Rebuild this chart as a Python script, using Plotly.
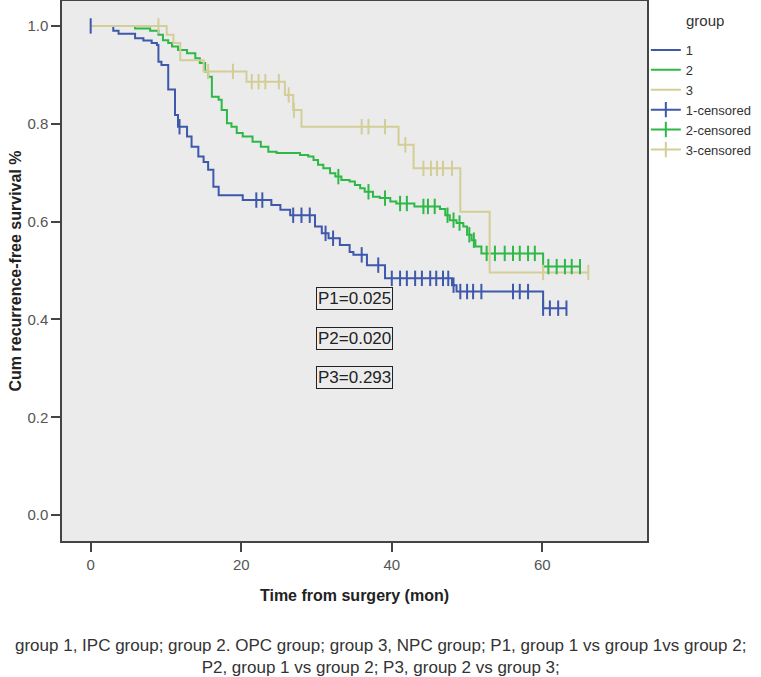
import numpy as np
import plotly.graph_objects as go

# ---------------- data ----------------
group_names = ["1", "2", "3"]

g1_time = [0, 3.0, 3.7, 5.9, 7.0, 8.1, 8.8, 9.0, 9.4, 10.3, 11.2, 11.6, 12.8, 13.4, 14.3,
           15.0, 15.6, 16.3, 17.0, 20.2, 24.0, 25.2, 26.5, 29.8, 30.7, 31.6, 33.1, 34.4,
           34.9, 36.7, 39.1, 48.0, 48.6, 60.1]
g1_surv = [1.0, 0.990, 0.984, 0.975, 0.970, 0.965, 0.961, 0.927, 0.920, 0.870, 0.818, 0.794,
           0.774, 0.753, 0.733, 0.722, 0.706, 0.671, 0.654, 0.644, 0.634, 0.624, 0.613, 0.590,
           0.576, 0.566, 0.552, 0.538, 0.532, 0.511, 0.484, 0.470, 0.457, 0.423]
g1_cens = [0, 11.8, 22.0, 22.8, 26.9, 28.0, 29.1, 31.2, 32.2, 36.0, 38.2, 40.0, 41.1, 42.0,
           43.1, 44.0, 45.1, 45.9, 46.8, 47.5, 48.2, 49.1, 50.0, 50.8, 51.9, 56.1, 57.0, 58.1,
           60.1, 61.0, 62.1, 63.2]

g2_time = [0, 5.9, 7.9, 9.0, 9.6, 10.3, 10.8, 11.6, 12.8, 13.9, 14.5, 15.2, 15.6, 16.1, 17.0,
           17.4, 18.1, 18.7, 19.4, 20.2, 21.5, 22.6, 23.6, 24.7, 27.8, 28.9, 29.6, 30.2, 30.9,
           31.8, 32.5, 33.3, 34.4, 35.1, 35.8, 36.4, 37.5, 38.4, 39.8, 40.6, 43.0, 46.4, 47.1,
           47.7, 48.6, 49.5, 50.0, 50.6, 51.1, 51.9, 60.1]
g2_surv = [1.0, 0.995, 0.990, 0.982, 0.971, 0.965, 0.958, 0.951, 0.944, 0.934, 0.924, 0.907,
           0.896, 0.855, 0.849, 0.828, 0.801, 0.794, 0.781, 0.774, 0.763, 0.753, 0.743, 0.740,
           0.736, 0.733, 0.726, 0.716, 0.709, 0.699, 0.692, 0.685, 0.682, 0.675, 0.668, 0.661,
           0.651, 0.648, 0.641, 0.637, 0.631, 0.626, 0.613, 0.603, 0.597, 0.590, 0.573, 0.562,
           0.549, 0.535, 0.508]
g2_cens = [32.9, 36.9, 39.1, 41.1, 42.0, 44.2, 44.8, 45.7, 47.4, 48.2, 49.0, 50.3, 50.9, 52.6,
           53.7, 55.0, 56.1, 57.0, 58.1, 59.0, 60.8, 61.9, 63.0, 63.9, 65.0]

g3_time = [0, 10.1, 11.0, 11.9, 15.0, 20.7, 25.8, 26.9, 28.0, 40.9, 42.9, 49.1, 53.0]
g3_surv = [1.0, 0.982, 0.965, 0.930, 0.907, 0.886, 0.859, 0.828, 0.794, 0.757, 0.709, 0.620, 0.496]
g3_cens = [9.0, 15.6, 18.9, 21.4, 22.3, 23.2, 25.0, 26.3, 27.0, 36.0, 36.9, 39.1, 41.8, 44.2,
           45.2, 46.0, 46.8, 48.0, 60.1, 66.1]

p_labels = ["P1=0.025", "P2=0.020", "P3=0.293"]
p_x = [35.0, 35.0, 35.0]
p_y = [0.443, 0.362, 0.281]

x_ticks = [0, 20, 40, 60]
y_ticks = [0.0, 0.2, 0.4, 0.6, 0.8, 1.0]

footnote = ("group 1, IPC group; group 2. OPC group; group 3, NPC group; P1, group 1 vs group 1vs group 2;"
            "<br>P2, group 1 vs group 2; P3, group 2 vs group 3;")

# ---------------- styling ----------------
colors = ["#3e58ac", "#2eb848", "#d3ce97"]
FONT = "Liberation Sans"

fig = go.Figure()

groups = [(g1_time, g1_surv, g1_cens), (g2_time, g2_surv, g2_cens), (g3_time, g3_surv, g3_cens)]

def step_value(times, surv, t):
    idx = np.searchsorted(np.array(times), t, side="right") - 1
    return surv[max(idx, 0)]

# step lines
for (t, s, c), name, col in zip(groups, group_names, colors):
    end = max(max(c), max(t))
    xs = list(t) + [end]
    ys = list(s) + [s[-1]]
    fig.add_trace(go.Scatter(x=xs, y=ys, mode="lines", line_shape="hv",
                             line=dict(color=col, width=2), name=name))

# censor marks
for (t, s, c), name, col in zip(groups, group_names, colors):
    xs, ys = [], []
    for ct in c:
        xs += [ct, None]
        ys += [step_value(t, s, ct), None]
    fig.add_trace(go.Scatter(x=xs, y=ys, mode="lines+markers", connectgaps=False,
                             line=dict(color=col, width=2),
                             marker=dict(symbol="line-ns", size=11,
                                         line=dict(color=col, width=2)),
                             name=name + "-censored"))

for lab, px, py in zip(p_labels, p_x, p_y):
    fig.add_annotation(x=px, y=py, xref="x", yref="y", text=lab, showarrow=False,
                       font=dict(family=FONT, size=17, color="#222"),
                       bordercolor="#222", borderwidth=1, borderpad=1, bgcolor="rgba(0,0,0,0)")

# legend title
fig.add_annotation(x=(684 - 62) / 585, y=(541 - 20) / 540, xref="paper", yref="paper",
                   xanchor="left", yanchor="middle", text="group", showarrow=False,
                   font=dict(family=FONT, size=15, color="#333"))

# footnote
fig.add_annotation(x=(380 - 62) / 585, y=(541 - 656) / 540, xref="paper", yref="paper",
                   xanchor="center", yanchor="middle", text=footnote, showarrow=False,
                   align="center", font=dict(family=FONT, size=17, color="#333"))

axis_common = dict(showgrid=False, zeroline=False, showline=True, linecolor="#444",
                   linewidth=1.5, mirror=True, ticks="outside", ticklen=9, tickwidth=1.5,
                   tickcolor="#444", automargin=False,
                   tickfont=dict(family=FONT, size=15, color="#555"))

fig.update_layout(
    width=761, height=677,
    margin=dict(l=62, r=114, t=1, b=136, autoexpand=False),
    paper_bgcolor="white", plot_bgcolor="#ebebeb",
    showlegend=True,
    legend=dict(x=0.998, xanchor="left", y=(541 - 35) / 540, yanchor="top",
                font=dict(family=FONT, size=13, color="#333"), bgcolor="rgba(0,0,0,0)",
                tracegroupgap=0, itemwidth=30),
    xaxis=dict(range=[-3.81, 73.9], tickvals=x_ticks,
               title=dict(text="<b>Time from surgery (mon)</b>", standoff=18,
                          font=dict(family=FONT, size=16, color="#222")),
               **axis_common),
    yaxis=dict(range=[-0.053, 1.051], tickvals=y_ticks, tickformat=".1f",
               title=dict(text="<b>Cum recurrence-free survival %</b>", standoff=2,
                          font=dict(family=FONT, size=16, color="#222")),
               **axis_common),
)

fig.write_html("out.html", config={"displayModeBar": False},
               post_script="document.body.style.margin='0';document.body.style.overflow='hidden';")
